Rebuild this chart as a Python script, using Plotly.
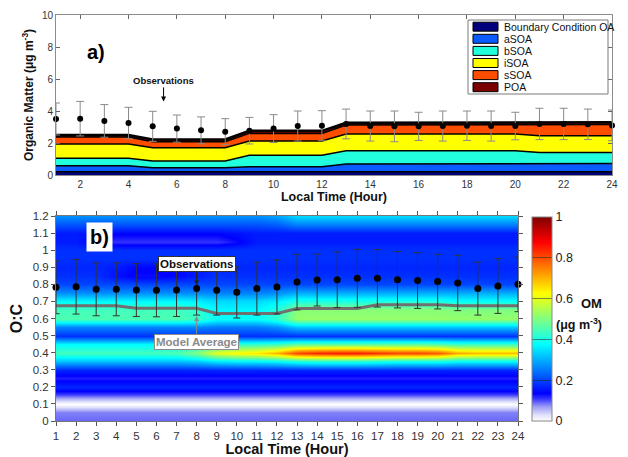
import plotly.graph_objects as go

W, H = 628, 457

# ---------------- data ----------------
hours = [1, 2, 3, 4, 5, 6, 7, 8, 9, 10, 11, 12,
         13, 14, 15, 16, 17, 18, 19, 20, 21, 22, 23, 24]

# Panel a) stacked model components (thickness of each layer, ug m-3)
bc_oa = [0.20, 0.20, 0.20, 0.20, 0.20, 0.20, 0.20, 0.20, 0.20, 0.20, 0.20, 0.20,
         0.20, 0.20, 0.20, 0.20, 0.20, 0.20, 0.20, 0.20, 0.20, 0.20, 0.20, 0.20]
asoa = [0.38, 0.38, 0.38, 0.38, 0.26, 0.26, 0.26, 0.26, 0.32, 0.32, 0.32, 0.32,
        0.49, 0.49, 0.49, 0.49, 0.49, 0.49, 0.49, 0.49, 0.52, 0.52, 0.52, 0.52]
bsoa = [0.46, 0.46, 0.46, 0.46, 0.42, 0.42, 0.42, 0.42, 0.71, 0.71, 0.71, 0.71,
        0.83, 0.83, 0.83, 0.82, 0.82, 0.82, 0.82, 0.82, 0.68, 0.68, 0.68, 0.68]
isoa = [0.90, 0.90, 0.90, 0.90, 0.82, 0.82, 0.82, 0.82, 0.89, 0.89, 0.89, 0.89,
        1.04, 1.04, 1.04, 1.05, 1.05, 1.05, 1.05, 1.05, 1.05, 1.05, 1.05, 1.05]
ssoa = [0.44, 0.44, 0.44, 0.44, 0.38, 0.38, 0.38, 0.38, 0.48, 0.48, 0.48, 0.48,
        0.56, 0.56, 0.56, 0.56, 0.56, 0.56, 0.56, 0.56, 0.71, 0.71, 0.71, 0.71]
poa = [0.12, 0.12, 0.12, 0.12, 0.14, 0.14, 0.14, 0.14, 0.16, 0.16, 0.16, 0.16,
       0.14, 0.14, 0.14, 0.14, 0.14, 0.14, 0.14, 0.14, 0.14, 0.14, 0.14, 0.14]

layer_names = ["Boundary Condition OA", "aSOA", "bSOA", "iSOA", "sSOA", "POA"]

# Panel a) observed organic matter
obs_om = [3.50, 3.52, 3.38, 3.25, 3.04, 2.90, 2.79, 2.71, 2.77, 2.90, 3.06, 3.08,
          3.19, 3.06, 3.04, 3.04, 3.06, 3.08, 3.06, 3.06, 3.19, 3.19, 3.17, 3.10]
obs_om_err = [1.00, 1.08, 1.02, 0.98, 0.94, 0.85, 0.84, 0.81, 0.83, 0.87, 0.94, 0.94,
              0.93, 0.94, 0.96, 0.88, 0.94, 0.92, 0.94, 0.86, 0.98, 0.98, 0.95, 0.96]

# Panel b) observed O:C and model average O:C
oc_obs = [0.783, 0.786, 0.771, 0.771, 0.767, 0.765, 0.767, 0.775, 0.765, 0.753, 0.775, 0.785,
          0.813, 0.825, 0.827, 0.835, 0.835, 0.827, 0.822, 0.816, 0.808, 0.775, 0.790, 0.800]
oc_obs_err = [0.155, 0.160, 0.155, 0.155, 0.155, 0.155, 0.155, 0.155, 0.145, 0.150, 0.155, 0.158,
              0.163, 0.152, 0.163, 0.170, 0.168, 0.165, 0.163, 0.160, 0.162, 0.155, 0.160, 0.160]
oc_model_avg = [0.675, 0.675, 0.675, 0.675, 0.660, 0.660, 0.660, 0.660, 0.630, 0.630, 0.630, 0.630,
                0.658, 0.658, 0.658, 0.658, 0.681, 0.681, 0.681, 0.681, 0.675, 0.675, 0.675, 0.675]

# Panel b) OM distribution over O:C (rows) and hour (columns)
oc_levels = [0.00, 0.05, 0.10, 0.15, 0.20, 0.25, 0.30, 0.35, 0.40, 0.45, 0.50, 0.55,
             0.60, 0.65, 0.70, 0.75, 0.80, 0.85, 0.90, 0.95, 1.00, 1.05, 1.10, 1.15, 1.20]
om_oc = [
    [0.09, 0.09, 0.09, 0.09, 0.09, 0.09, 0.09, 0.09, 0.09, 0.09, 0.09, 0.09, 0.09, 0.09, 0.09, 0.09, 0.09, 0.09, 0.09, 0.09, 0.09, 0.09, 0.09, 0.09],
    [0.08, 0.08, 0.08, 0.08, 0.08, 0.08, 0.08, 0.08, 0.08, 0.08, 0.08, 0.08, 0.08, 0.08, 0.08, 0.08, 0.08, 0.08, 0.08, 0.08, 0.08, 0.08, 0.08, 0.08],
    [0.00, 0.00, 0.00, 0.00, 0.00, 0.00, 0.00, 0.00, 0.00, 0.00, 0.00, 0.00, 0.00, 0.00, 0.00, 0.00, 0.00, 0.00, 0.00, 0.00, 0.00, 0.00, 0.00, 0.00],
    [0.10, 0.10, 0.10, 0.10, 0.10, 0.10, 0.10, 0.10, 0.10, 0.10, 0.10, 0.10, 0.10, 0.10, 0.10, 0.10, 0.10, 0.10, 0.10, 0.10, 0.10, 0.10, 0.10, 0.10],
    [0.17, 0.17, 0.17, 0.17, 0.17, 0.17, 0.17, 0.17, 0.17, 0.17, 0.17, 0.17, 0.17, 0.17, 0.17, 0.17, 0.17, 0.17, 0.17, 0.17, 0.17, 0.17, 0.17, 0.17],
    [0.12, 0.12, 0.12, 0.12, 0.12, 0.12, 0.12, 0.12, 0.12, 0.12, 0.12, 0.12, 0.12, 0.12, 0.12, 0.12, 0.12, 0.12, 0.12, 0.12, 0.12, 0.12, 0.12, 0.12],
    [0.17, 0.17, 0.17, 0.17, 0.17, 0.17, 0.17, 0.17, 0.17, 0.17, 0.17, 0.17, 0.17, 0.17, 0.17, 0.17, 0.17, 0.17, 0.17, 0.17, 0.17, 0.17, 0.17, 0.17],
    [0.32, 0.32, 0.32, 0.32, 0.32, 0.32, 0.32, 0.33, 0.36, 0.37, 0.37, 0.38, 0.41, 0.42, 0.42, 0.42, 0.41, 0.40, 0.40, 0.40, 0.38, 0.38, 0.38, 0.38],
    [0.44, 0.44, 0.44, 0.44, 0.44, 0.44, 0.45, 0.50, 0.60, 0.63, 0.65, 0.70, 0.81, 0.84, 0.85, 0.85, 0.83, 0.81, 0.81, 0.79, 0.71, 0.69, 0.69, 0.69],
    [0.37, 0.37, 0.37, 0.37, 0.37, 0.37, 0.37, 0.38, 0.41, 0.42, 0.42, 0.43, 0.46, 0.46, 0.46, 0.46, 0.46, 0.46, 0.46, 0.45, 0.43, 0.43, 0.43, 0.43],
    [0.18, 0.18, 0.18, 0.18, 0.18, 0.18, 0.18, 0.18, 0.18, 0.18, 0.18, 0.18, 0.18, 0.18, 0.18, 0.18, 0.18, 0.18, 0.18, 0.18, 0.18, 0.18, 0.18, 0.18],
    [0.26, 0.26, 0.26, 0.26, 0.26, 0.26, 0.26, 0.26, 0.25, 0.25, 0.25, 0.27, 0.32, 0.32, 0.32, 0.32, 0.32, 0.32, 0.32, 0.32, 0.32, 0.32, 0.32, 0.32],
    [0.45, 0.45, 0.45, 0.45, 0.45, 0.45, 0.45, 0.43, 0.38, 0.38, 0.38, 0.42, 0.52, 0.52, 0.52, 0.52, 0.52, 0.52, 0.52, 0.52, 0.52, 0.52, 0.52, 0.52],
    [0.44, 0.44, 0.44, 0.44, 0.44, 0.44, 0.44, 0.42, 0.37, 0.37, 0.37, 0.41, 0.51, 0.51, 0.51, 0.51, 0.51, 0.51, 0.51, 0.51, 0.50, 0.50, 0.50, 0.50],
    [0.37, 0.37, 0.37, 0.37, 0.37, 0.37, 0.37, 0.36, 0.34, 0.34, 0.34, 0.36, 0.40, 0.40, 0.40, 0.40, 0.40, 0.40, 0.40, 0.40, 0.38, 0.38, 0.38, 0.38],
    [0.27, 0.27, 0.27, 0.27, 0.27, 0.27, 0.27, 0.27, 0.26, 0.26, 0.26, 0.27, 0.30, 0.30, 0.30, 0.30, 0.30, 0.30, 0.30, 0.30, 0.30, 0.30, 0.30, 0.30],
    [0.20, 0.20, 0.20, 0.20, 0.20, 0.20, 0.20, 0.20, 0.20, 0.20, 0.20, 0.20, 0.20, 0.20, 0.20, 0.20, 0.20, 0.20, 0.20, 0.20, 0.20, 0.20, 0.20, 0.20],
    [0.18, 0.18, 0.18, 0.15, 0.13, 0.13, 0.14, 0.16, 0.18, 0.18, 0.18, 0.18, 0.18, 0.18, 0.18, 0.18, 0.18, 0.18, 0.18, 0.18, 0.18, 0.18, 0.18, 0.18],
    [0.17, 0.17, 0.17, 0.16, 0.14, 0.14, 0.14, 0.16, 0.17, 0.17, 0.17, 0.17, 0.17, 0.17, 0.17, 0.17, 0.17, 0.17, 0.17, 0.17, 0.17, 0.17, 0.17, 0.17],
    [0.18, 0.18, 0.18, 0.18, 0.18, 0.18, 0.18, 0.18, 0.18, 0.18, 0.18, 0.18, 0.18, 0.18, 0.18, 0.18, 0.18, 0.18, 0.18, 0.18, 0.18, 0.18, 0.18, 0.18],
    [0.18, 0.18, 0.18, 0.18, 0.18, 0.18, 0.18, 0.18, 0.18, 0.18, 0.18, 0.18, 0.18, 0.18, 0.18, 0.18, 0.18, 0.18, 0.18, 0.18, 0.18, 0.18, 0.18, 0.18],
    [0.16, 0.16, 0.13, 0.11, 0.11, 0.11, 0.11, 0.11, 0.11, 0.13, 0.16, 0.16, 0.16, 0.16, 0.16, 0.16, 0.16, 0.16, 0.16, 0.16, 0.16, 0.16, 0.16, 0.16],
    [0.16, 0.16, 0.15, 0.14, 0.14, 0.14, 0.14, 0.14, 0.14, 0.15, 0.16, 0.16, 0.16, 0.16, 0.16, 0.16, 0.16, 0.16, 0.16, 0.16, 0.16, 0.16, 0.16, 0.16],
    [0.21, 0.21, 0.21, 0.21, 0.21, 0.21, 0.21, 0.21, 0.21, 0.21, 0.21, 0.22, 0.25, 0.25, 0.25, 0.25, 0.25, 0.25, 0.25, 0.25, 0.25, 0.25, 0.25, 0.25],
    [0.27, 0.27, 0.27, 0.27, 0.27, 0.27, 0.27, 0.27, 0.27, 0.27, 0.27, 0.29, 0.34, 0.34, 0.34, 0.34, 0.34, 0.34, 0.34, 0.34, 0.34, 0.34, 0.34, 0.34],
]

colorbar_ticks = [0, 0.2, 0.4, 0.6, 0.8, 1]
top_xticks = [2, 4, 6, 8, 10, 12, 14, 16, 18, 20, 22, 24]

# ---------------- styling ----------------
FONT = "Liberation Sans, Arial, sans-serif"
layer_colors = ["#00007c", "#0b5cff", "#22ffdc", "#ffff00", "#ff4d00", "#7a0000"]
layer_widths = [1.5, 1.5, 1.5, 1.5, 1.5, 2.5]

om_colorscale = [
    [0.00, "#ffffff"], [0.03, "#e0e0fb"], [0.07, "#9c9cf6"], [0.11, "#3232ff"],
    [0.135, "#0000ff"], [0.375, "#00ffff"], [0.625, "#ffff00"], [0.875, "#ff0000"],
    [1.00, "#800000"],
]


def px(x):
    return x / W


def py(y):
    return 1 - y / H


fig = go.Figure()

# Panel a) stacked areas
for name, vals, col, lw in zip(layer_names, [bc_oa, asoa, bsoa, isoa, ssoa, poa],
                               layer_colors, layer_widths):
    fig.add_trace(go.Scatter(
        x=hours, y=vals, name=name, stackgroup="om", mode="lines",
        line=dict(color="black", width=lw), fillcolor=col,
        showlegend=False, xaxis="x", yaxis="y", hoverinfo="skip"))

fig.add_trace(go.Scatter(
    x=hours, y=obs_om, mode="markers", name="Observations",
    marker=dict(color="black", size=6),
    error_y=dict(type="data", array=obs_om_err, color="#8a8a8a", thickness=1, width=4),
    cliponaxis=False, showlegend=False, xaxis="x", yaxis="y"))

# Panel b) OM over O:C
fig.add_trace(go.Heatmap(
    x=hours, y=oc_levels, z=om_oc, zmin=0, zmax=1, colorscale=om_colorscale,
    zsmooth="best", xaxis="x2", yaxis="y2",
    colorbar=dict(
        x=px(532), xanchor="left", xpad=0, ypad=0,
        y=py(319), yanchor="middle", len=204 / H, lenmode="fraction",
        thickness=20, thicknessmode="pixels",
        tickvals=colorbar_ticks, ticktext=["0", "0.2", "0.4", "0.6", "0.8", "1"],
        ticks="inside", ticklen=20, tickwidth=1, tickcolor="rgba(40,40,40,0.55)",
        outlinecolor="#888888", outlinewidth=1,
        tickfont=dict(family=FONT, size=12.5, color="#222222"),
    )))

fig.add_trace(go.Scatter(
    x=hours, y=oc_model_avg, mode="lines", name="Model Average",
    line=dict(color="#707070", width=3), showlegend=False,
    xaxis="x2", yaxis="y2"))

fig.add_trace(go.Scatter(
    x=hours, y=oc_obs, mode="markers", name="Observations",
    marker=dict(color="black", size=7),
    error_y=dict(type="data", array=oc_obs_err, color="#333333", thickness=1, width=3.5),
    cliponaxis=False, showlegend=False, xaxis="x2", yaxis="y2"))

axis_common = dict(showgrid=False, zeroline=False, showline=True, automargin=False,
                   linewidth=1, mirror="ticks", ticklen=4, tickwidth=1)

shapes = []
annotations = []

# legend for panel a)
shapes.append(dict(type="rect", xref="paper", yref="paper",
                   x0=px(468), x1=px(608), y0=py(20), y1=py(94),
                   line=dict(color="#7a7a7a", width=1), fillcolor="white"))
for i, (name, col) in enumerate(zip(layer_names, layer_colors)):
    yc = 26.7 + i * 12.1
    shapes.append(dict(type="rect", xref="paper", yref="paper",
                       x0=px(473), x1=px(498), y0=py(yc + 4.5), y1=py(yc - 4.5),
                       line=dict(color="black", width=1), fillcolor=col))
    annotations.append(dict(text=name, xref="paper", yref="paper", x=px(502), y=py(yc),
                            xanchor="left", yanchor="middle", showarrow=False,
                            font=dict(family=FONT, size=10.5, color="#111111")))

annotations += [
    dict(text="a)", xref="paper", yref="paper", x=px(85), y=py(39), showarrow=False,
         font=dict(family=FONT, size=20, color="black", weight="bold")),
    dict(text="b)", xref="paper", yref="paper", x=px(86), y=py(237), showarrow=False,
         bgcolor="white", borderpad=3,
         font=dict(family=FONT, size=20, color="black", weight="bold")),
    dict(text="Observations", xref="x", yref="y", x=5.45, y=4.6, ax=0, ay=-21,
         showarrow=True, arrowhead=2, arrowsize=1, arrowwidth=1, arrowcolor="black",
         font=dict(family=FONT, size=9.5, color="#111111", weight="bold")),
    dict(text="Observations", xref="x2", yref="y2", x=8, y=0.795, ax=0, ay=-21,
         showarrow=True, arrowhead=2, arrowsize=1, arrowwidth=1, arrowcolor="#222222",
         bgcolor="white", bordercolor="#333333", borderwidth=1, borderpad=1,
         font=dict(family=FONT, size=11.5, color="#111111", weight="bold")),
    dict(text="Model Average", xref="x2", yref="y2", x=8, y=0.615, ax=0, ay=26,
         showarrow=True, arrowhead=2, arrowsize=1, arrowwidth=1, arrowcolor="#8a8a8a",
         bgcolor="white", bordercolor="#8a8a8a", borderwidth=1, borderpad=1,
         font=dict(family=FONT, size=11.5, color="#8a8a8a", weight="bold")),
    dict(text="OM", xref="paper", yref="paper", x=px(604), y=py(313), showarrow=False,
         font=dict(family=FONT, size=13, color="#111111", weight="bold")),
    dict(text="(μg m<sup>-3</sup>)", xref="paper", yref="paper", x=px(604), y=py(334),
         showarrow=False, font=dict(family=FONT, size=12.5, color="#111111", weight="bold")),
]

fig.update_layout(
    template="none",
    width=W, height=H,
    margin=dict(l=0, r=0, t=0, b=0),
    paper_bgcolor="white", plot_bgcolor="white",
    font=dict(family=FONT, color="#222222"),
    showlegend=False,
    xaxis=dict(domain=[px(56), px(612)], range=[1, 24], anchor="y",
               tickvals=top_xticks, ticks="inside", linecolor="#8c8c8c", tickcolor="#666666",
               layer="below traces",
               tickfont=dict(family=FONT, size=10, color="#333333"),
               title=dict(text="Local Time (Hour)", standoff=2,
                          font=dict(family=FONT, size=12.5, color="#111111", weight="bold")),
               **axis_common),
    yaxis=dict(domain=[py(175), py(15)], range=[0, 10], anchor="x", dtick=2,
               ticks="inside", linecolor="#8c8c8c", tickcolor="#666666",
               tickfont=dict(family=FONT, size=10, color="#333333"),
               title=dict(text="Organic Matter (μg m<sup>-3</sup>)", standoff=5,
                          font=dict(family=FONT, size=12, color="#111111", weight="bold")),
               **axis_common),
    xaxis2=dict(domain=[px(56), px(518)], range=[1, 24], anchor="y2", dtick=1,
                ticks="outside", linecolor="#777777", tickcolor="#555555",
                tickfont=dict(family=FONT, size=11.5, color="#333333"),
                title=dict(text="Local Time (Hour)", standoff=2,
                           font=dict(family=FONT, size=14.5, color="#111111", weight="bold")),
                **axis_common),
    yaxis2=dict(domain=[py(421), py(216)], range=[0, 1.2], anchor="x2", dtick=0.1,
                ticks="outside", linecolor="#777777", tickcolor="#555555",
                tickfont=dict(family=FONT, size=11.5, color="#333333"),
                title=dict(text="O:C", standoff=6,
                           font=dict(family=FONT, size=16, color="#111111", weight="bold")),
                **axis_common),
    shapes=shapes,
    annotations=annotations,
)

fig.write_html(
    "out.html",
    config={"displayModeBar": False},
    post_script="document.body.style.margin='0';document.body.style.overflow='hidden';",
)
